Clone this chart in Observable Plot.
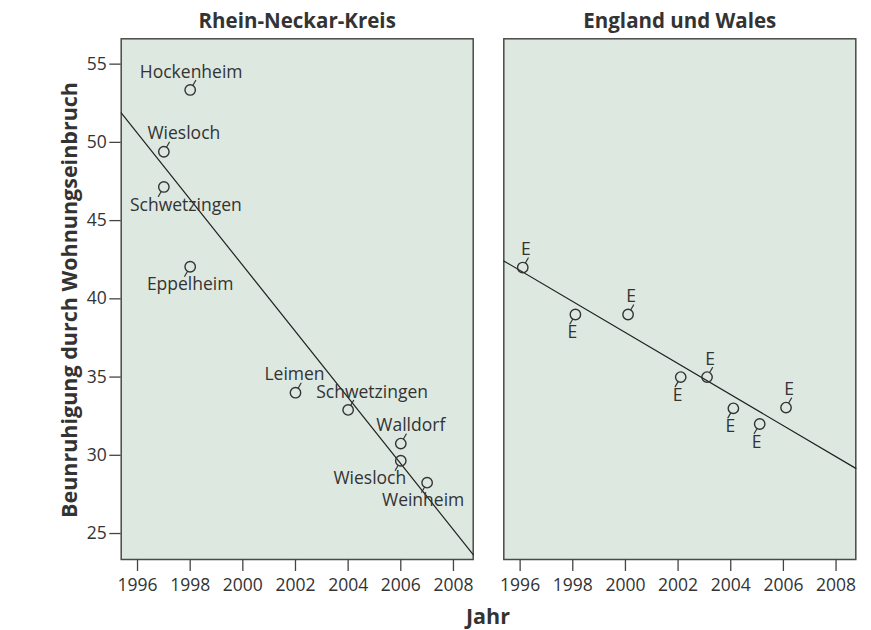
<!DOCTYPE html>
<html>
<head>
<meta charset="utf-8">
<script src="https://cdn.jsdelivr.net/npm/d3@7"></script>
<script src="https://cdn.jsdelivr.net/npm/@observablehq/plot@0.6"></script>
<style>
  body { margin: 0; background: #fff; font-family: "Open Sans", sans-serif; }
  #chart svg { display: block; }
</style>
</head>
<body>
<div id="chart"></div>
<script>
// ---- data ----
const panels = ["Rhein-Neckar-Kreis", "England und Wales"];

const rnkTowns  = ["Hockenheim", "Wiesloch", "Schwetzingen", "Eppelheim", "Leimen", "Schwetzingen", "Walldorf", "Wiesloch", "Weinheim"];
const rnkYears  = [1998, 1997, 1997, 1998, 2002, 2004, 2006, 2006, 2007];
const rnkValues = [53.35, 49.4, 47.15, 42.05, 34.0, 32.9, 30.75, 29.65, 28.25];

const ewYears  = [1996.1, 1998.1, 2000.1, 2002.1, 2003.1, 2004.1, 2005.1, 2006.1];
const ewValues = [42, 39, 39, 35, 35, 33, 32, 33.05];
const ewLabel  = "E";

const xTicks = [1996, 1998, 2000, 2002, 2004, 2006, 2008];
const yTicks = [25, 30, 35, 40, 45, 50, 55];

const yTitle = "Beunruhigung durch Wohnungseinbruch";
const xTitle = "Jahr";

// ---- label layout (which side of the point, horizontal shift in px) ----
const rnkLabelSide = ["above", "above", "below", "below", "above", "above", "above", "below", "below"];
const rnkLabelDx   = [1, 20, 22, 0, -1, 24, 10, -31, -4];
const ewLabelSide  = ["above", "below", "above", "below", "above", "below", "below", "above"];

// ---- build table ----
const rows = [
  ...rnkTowns.map((t, i) => ({panel: panels[0], x: rnkYears[i], y: rnkValues[i], label: t, side: rnkLabelSide[i], ldx: rnkLabelDx[i]})),
  ...ewYears.map((yr, i) => ({panel: panels[1], x: yr, y: ewValues[i], label: ewLabel, side: ewLabelSide[i], ldx: ewLabelSide[i] === "above" ? 3 : -3}))
];

const xDomain = [1995.38, 2008.75];
const yDomain = [23.34, 56.62];

// regression lines (least squares per panel), drawn across the panel
const regLines = panels.flatMap(p => {
  const pts = rows.filter(r => r.panel === p);
  const mx = d3.mean(pts, d => d.x), my = d3.mean(pts, d => d.y);
  const b = d3.sum(pts, d => (d.x - mx) * (d.y - my)) / d3.sum(pts, d => (d.x - mx) ** 2);
  return xDomain.map(x => ({panel: p, x, y: my + b * (x - mx)}));
});

const ink = "#333";
const leader = {draw(context, l) { context.moveTo(0, -5.5); context.lineTo(0, -l); }};

const labelMarks = rows.map(d => Plot.text([d], {
  x: "x", y: "y", fx: "panel", text: "label",
  dx: d.ldx, dy: d.side === "above" ? -18 : 18,
  fontSize: 17.5, fill: ink
}));

const chart = Plot.plot({
  width: 871,
  height: 630,
  marginLeft: 120.7,
  marginRight: 15.7,
  marginTop: 38.3,
  marginBottom: 71,
  style: {fontFamily: '"Open Sans", sans-serif', color: ink, background: "white", overflow: "visible"},
  x: {domain: xDomain},
  y: {domain: yDomain},
  fx: {domain: panels, paddingInner: 0.08, paddingOuter: 0, round: false},
  marks: [
    Plot.frame({fill: "#dde8e0", stroke: "#4a4a4a", strokeWidth: 1.5}),
    Plot.line(regLines, {x: "x", y: "y", fx: "panel", z: "panel", stroke: "#222", strokeWidth: 1.2}),
    Plot.vector(rows, {x: "x", y: "y", fx: "panel", length: 11, anchor: "start", shape: leader,
      rotate: d => d.side === "above" ? 30 : 210, stroke: ink, strokeWidth: 1.2}),
    Plot.dot(rows, {x: "x", y: "y", fx: "panel", r: 5.2, stroke: ink, strokeWidth: 1.4, fill: "none"}),
    ...labelMarks,
    Plot.axisX({ticks: xTicks, tickFormat: d => String(d), tickSize: 12, tickPadding: 7, fontSize: 17.5, label: null, stroke: "#444", strokeWidth: 1.3}),
    Plot.axisY({ticks: yTicks, tickFormat: d => String(d), tickSize: 11.4, tickPadding: 3, fontSize: 17.5, label: null, stroke: "#444", strokeWidth: 1.3}),
    Plot.axisFx({anchor: "top", tickSize: 0, tickPadding: 11, fontSize: 20.5, fontWeight: "bold", label: null})
  ]
});

const svg = d3.select(chart);
svg.append("text")
  .attr("transform", "translate(68,300) rotate(-90)")
  .attr("text-anchor", "middle")
  .attr("dominant-baseline", "central")
  .attr("font-size", 21.5)
  .attr("font-weight", "bold")
  .attr("fill", ink)
  .text(yTitle);
svg.append("text")
  .attr("x", 488)
  .attr("y", 615)
  .attr("text-anchor", "middle")
  .attr("dominant-baseline", "central")
  .attr("font-size", 21.5)
  .attr("font-weight", "bold")
  .attr("fill", ink)
  .text(xTitle);

document.getElementById("chart").append(chart);
</script>
</body>
</html>
